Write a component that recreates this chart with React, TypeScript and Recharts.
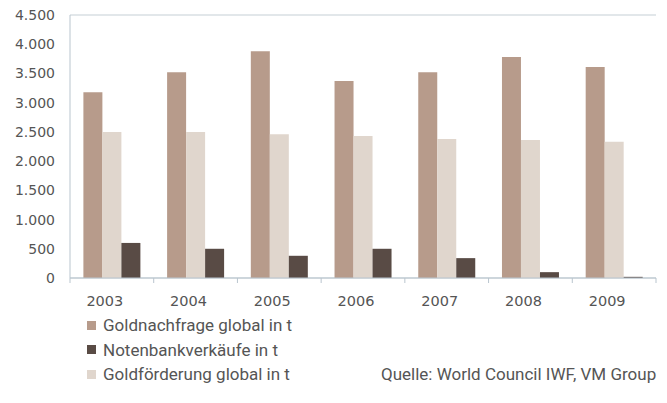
import React from 'react';
import { BarChart, Bar, XAxis, YAxis, CartesianGrid, Legend } from 'recharts';

const years = ['2003', '2004', '2005', '2006', '2007', '2008', '2009'];
const goldnachfrage = [3180, 3520, 3880, 3370, 3520, 3780, 3610];
const goldfoerderung = [2500, 2500, 2460, 2430, 2380, 2360, 2330];
const notenbank = [600, 500, 380, 500, 340, 100, 20];
const yTicks = [0, 500, 1000, 1500, 2000, 2500, 3000, 3500, 4000, 4500];

const seriesNames = {
  nachfrage: 'Goldnachfrage global in t',
  notenbank: 'Notenbankverkäufe in t',
  foerderung: 'Goldförderung global in t',
};
const source = 'Quelle: World Council IWF, VM Group';

const C_NACHFRAGE = '#b79b8b';
const C_NOTENBANK = '#594b45';
const C_FOERDERUNG = '#e0d6cd';
const GRID = '#c6cfd6';
const AXIS = '#b9c5ce';
const TEXT = '#555555';
const LEGEND_FONT = 'Roboto, "DejaVu Sans Condensed", sans-serif';

const data = years.map((y, i) => ({
  year: y,
  nachfrage: goldnachfrage[i],
  foerderung: goldfoerderung[i],
  notenbank: notenbank[i],
}));

const fmt = (v: number) => String(v).replace(/\B(?=(\d{3})+(?!\d))/g, '.');

const legendItems = [
  { key: 'nachfrage', color: C_NACHFRAGE },
  { key: 'notenbank', color: C_NOTENBANK },
  { key: 'foerderung', color: C_FOERDERUNG },
];

const XTick = (props: any) => {
  const { x, y, payload, index } = props;
  const off = payload.offset || 0;
  const left = x - off;
  const isLast = index === years.length - 1;
  return (
    <g>
      <line x1={left} y1={y} x2={left} y2={y + 5} stroke={AXIS} strokeWidth={1} />
      {isLast && <line x1={x + off} y1={y} x2={x + off} y2={y + 5} stroke={AXIS} strokeWidth={1} />}
      <text x={x - 7} y={y + 28} textAnchor="middle" fill={TEXT} fontSize={14.5} fontFamily="DejaVu Sans">
        {payload.value}
      </text>
    </g>
  );
};

const LegendContent = () => (
  <div style={{ fontFamily: LEGEND_FONT, fontSize: 17, color: TEXT }}>
    {legendItems.map((it) => (
      <div key={it.key} style={{ display: 'flex', alignItems: 'center', height: 24.5 }}>
        <span style={{ display: 'inline-block', width: 9, height: 9, background: it.color, marginRight: 7 }} />
        <span>{(seriesNames as any)[it.key]}</span>
      </div>
    ))}
  </div>
);

export default function App() {
  return (
    <div style={{ position: 'absolute', left: 0, top: 0, width: 667, height: 403, background: '#fff' }}>
      <BarChart
        width={667}
        height={403}
        data={data}
        margin={{ top: 15, right: 11, bottom: 95, left: 0 }}
        barCategoryGap="16%"
        barGap={0}
      >
        <CartesianGrid vertical={false} stroke={GRID} strokeWidth={1.2} />
        <XAxis
          dataKey="year"
          axisLine={{ stroke: AXIS }}
          tickLine={false}
          tickSize={0}
          tickMargin={0}
          height={30}
          interval={0}
          tick={<XTick />}
        />
        <YAxis
          yAxisId="left"
          domain={[0, 4500]}
          ticks={yTicks}
          tickFormatter={fmt}
          axisLine={{ stroke: AXIS }}
          tickLine={false}
          tickSize={0}
          tickMargin={15}
          width={70}
          interval={0}
          tick={{ fill: TEXT, fontSize: 14, fontFamily: 'DejaVu Sans' }}
        />
        <YAxis
          yAxisId="right"
          orientation="right"
          domain={[0, 4500]}
          ticks={[]}
          axisLine={{ stroke: AXIS }}
          tickLine={false}
          width={0}
        />
        <Bar yAxisId="left" dataKey="nachfrage" name={seriesNames.nachfrage} fill={C_NACHFRAGE} isAnimationActive={false} />
        <Bar yAxisId="left" dataKey="foerderung" name={seriesNames.foerderung} fill={C_FOERDERUNG} isAnimationActive={false} />
        <Bar yAxisId="left" dataKey="notenbank" name={seriesNames.notenbank} fill={C_NOTENBANK} isAnimationActive={false} />
        <Legend
          layout="horizontal"
          verticalAlign="middle"
          align="center"
          content={<LegendContent />}
          wrapperStyle={{ position: 'absolute', top: 313, left: 87, width: 300, height: 78 }}
        />
      </BarChart>
      <div
        style={{
          position: 'absolute',
          left: 381,
          top: 362,
          fontFamily: LEGEND_FONT,
          fontSize: 17,
          color: TEXT,
          lineHeight: '24.5px',
          whiteSpace: 'nowrap',
        }}
      >
        {source}
      </div>
    </div>
  );
}
